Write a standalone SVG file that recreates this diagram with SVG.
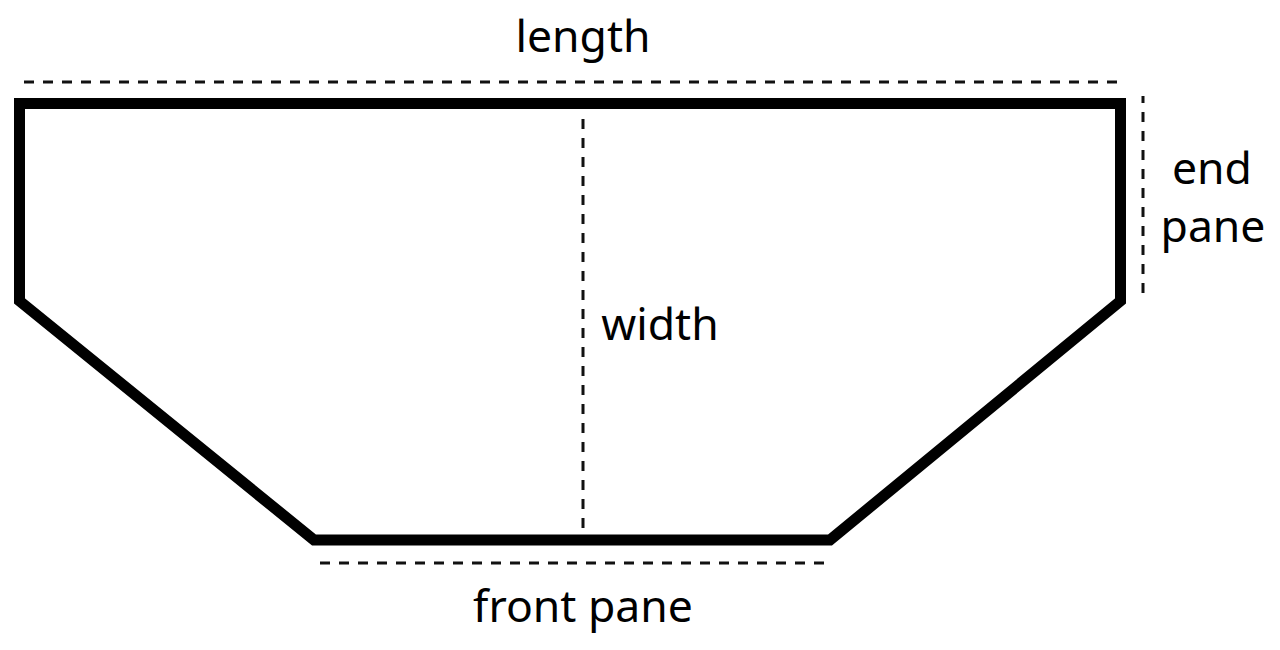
<svg xmlns="http://www.w3.org/2000/svg" width="1280" height="650" viewBox="0 0 1280 650">
<style>
.d{fill:none;stroke:#111;stroke-width:3;stroke-dasharray:10 9}
.t{font-family:"Noto Sans","Open Sans",sans-serif;font-size:44.5px;fill:#000}
</style>
<rect width="1280" height="650" fill="#fff"/>
<g id="connectors">
<path class="d" d="M24 82H1122"/>
<path class="d" d="M1143 96V294" stroke-dashoffset="3"/>
<path class="d" d="M583 528V115"/>
<path class="d" d="M320 563H826"/>
</g>
<g id="pane"><path d="M19.5 103.5H1120.5V301L830 540H314L19.5 301Z" fill="none" stroke="#000" stroke-width="11"/></g>
<g id="length"><text class="t" x="583" y="52" text-anchor="middle">length</text></g>
<g id="end"><text class="t" x="1212" y="184" text-anchor="middle">end</text><text class="t" x="1213" y="242" text-anchor="middle">pane</text></g>
<g id="width"><text class="t" x="660" y="340" text-anchor="middle">width</text></g>
<g id="front"><text class="t" x="583" y="622" text-anchor="middle">front pane</text></g>
</svg>
